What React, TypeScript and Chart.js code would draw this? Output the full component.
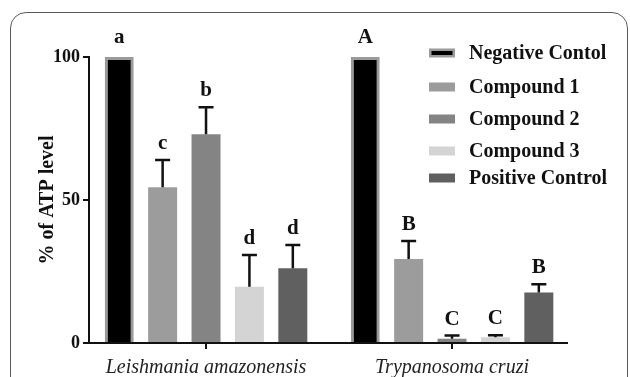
import React, { useEffect, useRef } from "react";
import { Chart, registerables } from "chart.js";

Chart.register(...registerables);

// ---- data ----
const categories = ["Leishmania amazonensis", "Trypanosoma cruzi"];
const seriesNames = ["Negative Contol", "Compound 1", "Compound 2", "Compound 3", "Positive Control"];
const negativeControl = [100, 100];
const compound1 = [54.5, 29.4];
const compound2 = [73.0, 1.5];
const compound3 = [19.7, 2.0];
const positiveControl = [26.1, 17.7];
const negativeErr = [0, 0];
const compound1Err = [9.5, 6.3];
const compound2Err = [9.4, 1.1];
const compound3Err = [11.1, 0.7];
const positiveErr = [8.2, 2.8];
const negativeLetters = ["a", "A"];
const compound1Letters = ["c", "B"];
const compound2Letters = ["b", "C"];
const compound3Letters = ["d", "C"];
const positiveLetters = ["d", "B"];
const yTicks = [0, 50, 100];

// ---- styles ----
const FONT = "'Liberation Serif', 'Times New Roman', serif";
const fills = ["#000000", "#9c9c9c", "#848484", "#d4d4d4", "#606060"];
const borders = ["#9a9a9a", "#9c9c9c", "#848484", "#d4d4d4", "#606060"];
const borderWidths = [3, 0, 0, 0, 0];
const legendRowY = [53, 87, 119, 151, 178];

const seriesValues = [negativeControl, compound1, compound2, compound3, positiveControl];
const seriesErrs = [negativeErr, compound1Err, compound2Err, compound3Err, positiveErr];
const seriesLetters = [negativeLetters, compound1Letters, compound2Letters, compound3Letters, positiveLetters];

const annotPlugin = {
  id: "annot",
  afterDatasetsDraw(chart: any) {
    const ctx = chart.ctx;
    const ys = chart.scales.y;
    ctx.save();
    chart.data.datasets.forEach((ds: any, di: number) => {
      const meta = chart.getDatasetMeta(di);
      meta.data.forEach((bar: any, i: number) => {
        const v = ds.data[i];
        const e = seriesErrs[di][i];
        const x = bar.x;
        const top = ys.getPixelForValue(v + e);
        if (e > 0) {
          ctx.strokeStyle = "#111";
          ctx.lineWidth = 2.5;
          ctx.beginPath();
          ctx.moveTo(x, ys.getPixelForValue(v));
          ctx.lineTo(x, top);
          ctx.moveTo(x - 7.5, top);
          ctx.lineTo(x + 7.5, top);
          ctx.stroke();
        }
        ctx.fillStyle = "#111";
        ctx.font = `bold 21px ${FONT}`;
        ctx.textAlign = "center";
        ctx.textBaseline = "alphabetic";
        ctx.fillText(seriesLetters[di][i], x, top - (e > 0 ? 11 : 14));
      });
    });
    ctx.restore();
  },
  afterDraw(chart: any) {
    const ctx = chart.ctx;
    ctx.save();
    chart.data.datasets.forEach((ds: any, di: number) => {
      const cy = legendRowY[di];
      const bx = 429, bw = 26, bh = 9;
      ctx.fillStyle = borders[di];
      ctx.fillRect(bx, cy - bh / 2, bw, bh);
      if (borderWidths[di] > 0) {
        ctx.fillStyle = fills[di];
        ctx.fillRect(bx + 2.5, cy - bh / 2 + 2.5, bw - 5, bh - 5);
      }
      ctx.fillStyle = "#111";
      ctx.font = `bold 20px ${FONT}`;
      ctx.textAlign = "left";
      ctx.textBaseline = "middle";
      ctx.fillText(ds.label, 469, cy + 1);
    });
    ctx.restore();
  },
};

export default function App() {
  const ref = useRef<HTMLCanvasElement>(null);

  useEffect(() => {
    if (!ref.current) return;
    const chart = new Chart(ref.current, {
      type: "bar",
      data: {
        labels: categories,
        datasets: seriesNames.map((name, di) => ({
          label: name,
          data: seriesValues[di],
          backgroundColor: fills[di],
          borderColor: borders[di],
          borderWidth: borderWidths[di],
          categoryPercentage: 0.882,
          barPercentage: 0.668,
        })),
      },
      options: {
        animation: false,
        responsive: false,
        devicePixelRatio: 1,
        layout: { padding: { left: 25, top: 57, right: 63, bottom: 0 } },
        plugins: { legend: { display: false }, tooltip: { enabled: false } },
        scales: {
          x: {
            offset: true,
            afterFit: (s: any) => {
              s.height = 34;
            },
            afterBuildTicks: (s: any) => {
              s._startValue = -0.4757;
              s._valueRange = 1.943;
            },
            border: { display: true, color: "#111", width: 2 },
            grid: {
              display: true,
              drawOnChartArea: false,
              offset: false,
              drawTicks: true,
              tickLength: 6,
              color: "#111",
              lineWidth: 2,
            },
            ticks: {
              color: "#222",
              padding: 7,
              maxRotation: 0,
              font: { family: FONT, size: 20, style: "italic" },
            },
          },
          y: {
            min: 0,
            max: 100,
            afterFit: (s: any) => {
              s.width = 64;
            },
            afterBuildTicks: (s: any) => {
              s.ticks = yTicks.map((v) => ({ value: v }));
            },
            border: { display: true, color: "#111", width: 2 },
            grid: {
              display: true,
              drawOnChartArea: false,
              drawTicks: true,
              tickLength: 6,
              color: "#111",
              lineWidth: 2,
            },
            ticks: {
              color: "#111",
              padding: 3,
              font: { family: FONT, size: 18, weight: "bold" },
            },
            title: {
              display: true,
              text: "% of ATP level",
              color: "#111",
              padding: { top: 11, bottom: 0 },
              font: { family: FONT, size: 20, weight: "bold" },
            },
          },
        },
      },
      plugins: [annotPlugin],
    } as any);
    return () => chart.destroy();
  }, []);

  return (
    <div
      style={{
        position: "fixed",
        left: 0,
        top: 0,
        width: 630,
        height: 377,
        overflow: "hidden",
        background: "#fff",
      }}
    >
      <canvas ref={ref} width={630} height={377} style={{ position: "absolute", left: 0, top: 0 }} />
      <div
        style={{
          position: "absolute",
          left: 10,
          top: 12,
          width: 618,
          height: 430,
          border: "1.5px solid #5a5a5a",
          borderRadius: 16,
          boxSizing: "border-box",
          pointerEvents: "none",
        }}
      />
    </div>
  );
}
